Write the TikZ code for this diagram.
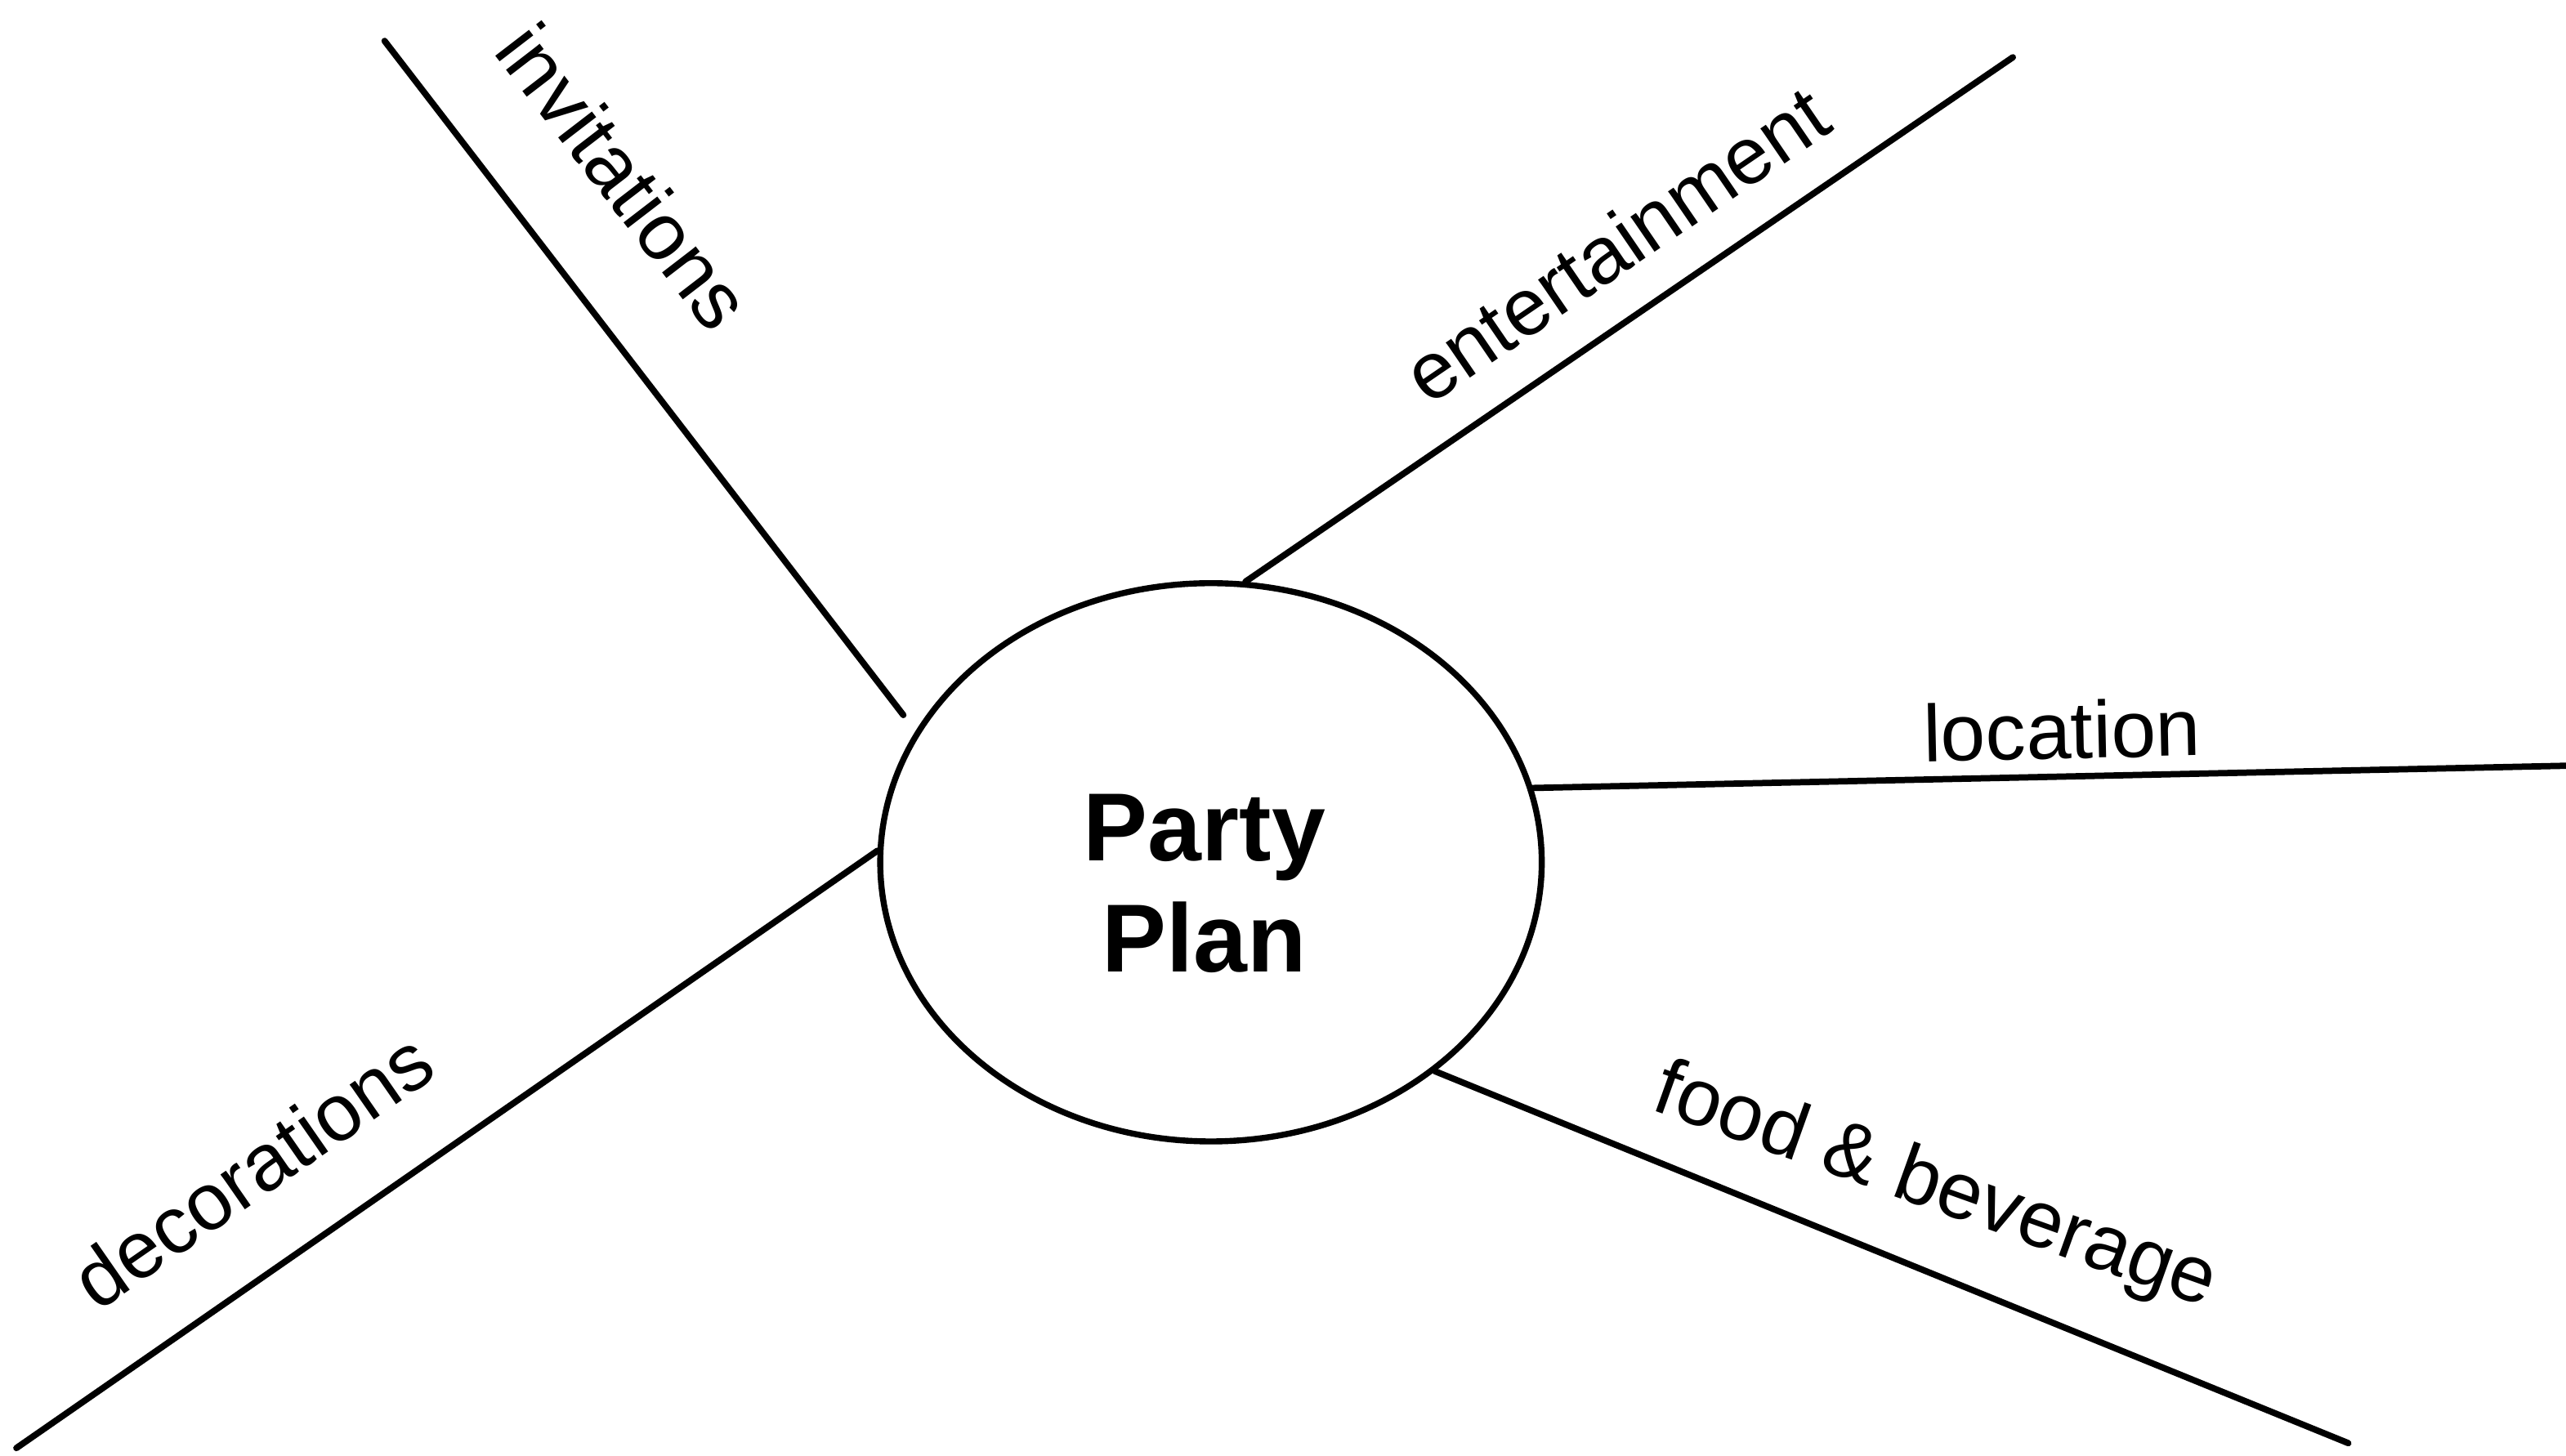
\documentclass[tikz,border=0pt]{standalone}
\usepackage{fontspec}
\setmainfont{Liberation Sans}
\usetikzlibrary{shapes.geometric}
\begin{document}
\begin{tikzpicture}[x=0.01cm, y=-0.01cm,
  spoke/.style={line width=1.1pt, line cap=round},
  lbl/.style={font=\fontsize{14}{17}\selectfont, sloped, anchor=base, inner sep=0pt}]
\useasboundingbox (0,0) rectangle (1568,889.4);

% central topic
\node[ellipse, draw, line width=1.05pt, minimum width=4.04cm, minimum height=3.41cm,
      inner sep=0pt] (pp) at (740,527) {};
\node[align=center, inner sep=0pt, font=\bfseries\fontsize{16.8}{19.3}\selectfont]
      (pp-title) at (736,540) {Party\\Plan};

% free ends of the spokes
\coordinate (inv-out)  at (235,25);
\coordinate (inv-in)   at (552,437);
\coordinate (ent-out)  at (1230,35);
\coordinate (loc-out)  at (1568,468);
\coordinate (food-out) at (1435,882);
\coordinate (dec-out)  at (10,885);

% spokes with their labels
\draw[spoke] (inv-out) -- (inv-in)
  node[lbl, pos=0.298, yshift=0.48cm] {invitations};
\draw[spoke] (pp.83) -- (ent-out)
  node[lbl, pos=0.534, yshift=0.25cm] {entertainment};
\draw[spoke] (pp.13) -- (loc-out)
  node[lbl, pos=0.513, yshift=0.11cm] {location};
\draw[spoke] (pp.-43) -- (food-out)
  node[lbl, pos=0.515, yshift=0.36cm, rotate=2.5] {food \& beverage};
\draw[spoke] (dec-out) -- (pp.178)
  node[lbl, pos=0.336, yshift=0.40cm] {decorations};
\end{tikzpicture}
\end{document}
